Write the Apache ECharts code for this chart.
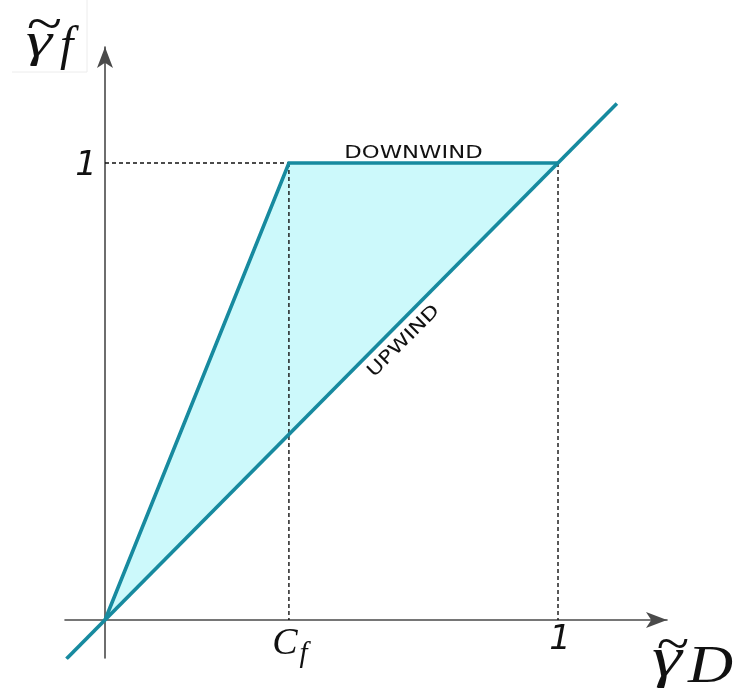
<!DOCTYPE html>
<html>
<head>
<meta charset="utf-8">
<script src="https://cdn.jsdelivr.net/npm/echarts@6/dist/echarts.min.js"></script>
<style>
  html, body { margin: 0; padding: 0; background: #ffffff; }
  #chart { width: 740px; height: 693px; }
</style>
</head>
<body>
<div id="chart"></div>
<script>
// Feasible region between the upwind line (γf = γD) and the downwind bound.
const cf = 0.406;                       // C_f on the horizontal axis

const boundaryX = [0, cf, 1];           // downwind bound: rises to 1 at C_f, then flat
const boundaryY = [0, 1, 1];

const upwindX = [-0.085, 1.13];         // the line γf = γD
const upwindY = [-0.085, 1.13];

const shadeX = [0, cf, 1];              // shaded region corners
const shadeY = [0, 1, 1];

const guideH = [[0, 1], [cf, 1]];       // dashed guide lines
const guideCf = [[cf, 1], [cf, 0]];
const guideOne = [[1, 1], [1, 0]];

const xTickValues = [cf, 1];
const xTickLabels = ['{c|C}{s|f}', '{n|1}'];
const yTickValues = [1];
const yTickLabels = ['{n|1}'];

const regionLabels = ['DOWNWIND', 'UPWIND'];

const teal = '#178a9f';
const shade = '#ccf9fb';
const axisGrey = '#4a4a4a';
const ink = '#111111';

const chart = echarts.init(document.getElementById('chart'), null, { renderer: 'canvas' });

function pairs(xs, ys) { return xs.map((x, i) => [x, ys[i]]); }

function dashed(data) {
  return {
    type: 'line', data: data, symbol: 'none', silent: true, z: 3,
    lineStyle: { color: ink, width: 1.4, type: [4, 3] }
  };
}

const serifItalic = (size) =>
  ({ fontFamily: 'Liberation Serif', fontStyle: 'italic', fontSize: size, fill: ink, verticalAlign: 'top' });

const tickRich = {
  n: { fontFamily: 'DejaVu Sans', fontStyle: 'italic', fontSize: 34, fill: ink },
  c: { fontFamily: 'Liberation Serif', fontStyle: 'italic', fontSize: 38, fill: ink },
  s: { fontFamily: 'Liberation Serif', fontStyle: 'italic', fontSize: 29, fill: ink, padding: [20, 0, 0, 2] }
};

// tick label anchors: horizontal ticks sit on y = 0, vertical ones on x = 0
const tickPoints = xTickValues.map(v => [v, 0]).concat(yTickValues.map(v => [0, v]));
const tickTexts = xTickLabels.concat(yTickLabels);

function axisTitle(x, y, text, size, scaleX) {
  return { type: 'text', x: x, y: y, scaleX: scaleX || 1, z: 10,
           style: Object.assign(serifItalic(size), { text: text }) };
}

const option = {
  backgroundColor: '#ffffff',
  animation: false,
  grid: { left: 65, right: 73, top: 47, bottom: 35, outerBoundsMode: 'none', containLabel: false },
  xAxis: {
    type: 'value', min: -0.0883, max: 1.2406,
    splitLine: { show: false }, axisTick: { show: false }, axisLabel: { show: false },
    axisLine: {
      onZero: true, symbol: ['none', 'arrow'], symbolSize: [12, 21],
      lineStyle: { color: axisGrey, width: 1.6 }
    }
  },
  yAxis: {
    type: 'value', min: -0.0832, max: 1.2538,
    splitLine: { show: false }, axisTick: { show: false }, axisLabel: { show: false },
    axisLine: {
      onZero: true, symbol: ['none', 'arrow'], symbolSize: [12, 21],
      lineStyle: { color: axisGrey, width: 1.6 }
    }
  },
  graphic: [
    // faint frame edge around the vertical axis title
    { type: 'polyline', z: 1, silent: true,
      shape: { points: [[12, 72], [87, 72], [87, 0]] },
      style: { stroke: '#ececec', lineWidth: 1, fill: null } },
    // vertical axis title: γ with tilde, subscript f
    axisTitle(26, 19, 'γ', 49, 1.35),
    axisTitle(26, 1, '~', 52, 1.25),
    axisTitle(60, 23, 'f', 48),
    // horizontal axis title: γ with tilde, D
    axisTitle(652, 633, 'γ', 56, 1.35),
    axisTitle(656, 621, '~', 52, 1.15),
    axisTitle(688, 642, 'D', 52, 1.2)
  ],
  series: [
    {
      type: 'custom', silent: true, z: 1,
      data: pairs(shadeX, shadeY),
      renderItem: (params, api) => {
        if (params.dataIndex !== 0) return null;
        const pts = shadeX.map((x, i) => api.coord([x, shadeY[i]]));
        return { type: 'polygon', shape: { points: pts }, style: { fill: shade } };
      }
    },
    dashed(guideH),
    dashed(guideCf),
    dashed(guideOne),
    {
      type: 'line', data: pairs(upwindX, upwindY), symbol: 'none', z: 5,
      lineStyle: { color: teal, width: 3.6 }
    },
    {
      type: 'line', data: pairs(boundaryX, boundaryY), symbol: 'none', z: 5,
      lineStyle: { color: teal, width: 3.6, join: 'miter' }
    },
    {
      // tick labels
      type: 'custom', silent: true, z: 6,
      data: tickPoints,
      renderItem: (params, api) => {
        const p = api.coord([api.value(0), api.value(1)]);
        const onY = api.value(0) === 0;
        const isCf = params.dataIndex === 0;
        return {
          type: 'text',
          x: onY ? p[0] - 8 : p[0] + (isCf ? 1 : 2),
          y: onY ? p[1] + 3 : p[1] + (isCf ? 24 : 20),
          style: {
            text: tickTexts[params.dataIndex], rich: tickRich,
            align: onY ? 'right' : 'center', verticalAlign: 'middle'
          }
        };
      }
    },
    {
      // region annotations
      type: 'custom', silent: true, z: 6,
      data: [[0.681, 1], [0.66, 0.61]],
      renderItem: (params, api) => {
        const p = api.coord([api.value(0), api.value(1)]);
        const i = params.dataIndex;
        return {
          type: 'text', x: p[0], y: i === 0 ? p[1] - 10 : p[1],
          rotation: i === 0 ? 0 : Math.PI / 4,
          scaleX: 1.26,
          style: {
            text: regionLabels[i], fill: ink,
            font: '18px "DejaVu Sans"', align: 'center', verticalAlign: 'middle'
          }
        };
      }
    }
  ]
};

chart.setOption(option);
</script>
</body>
</html>
